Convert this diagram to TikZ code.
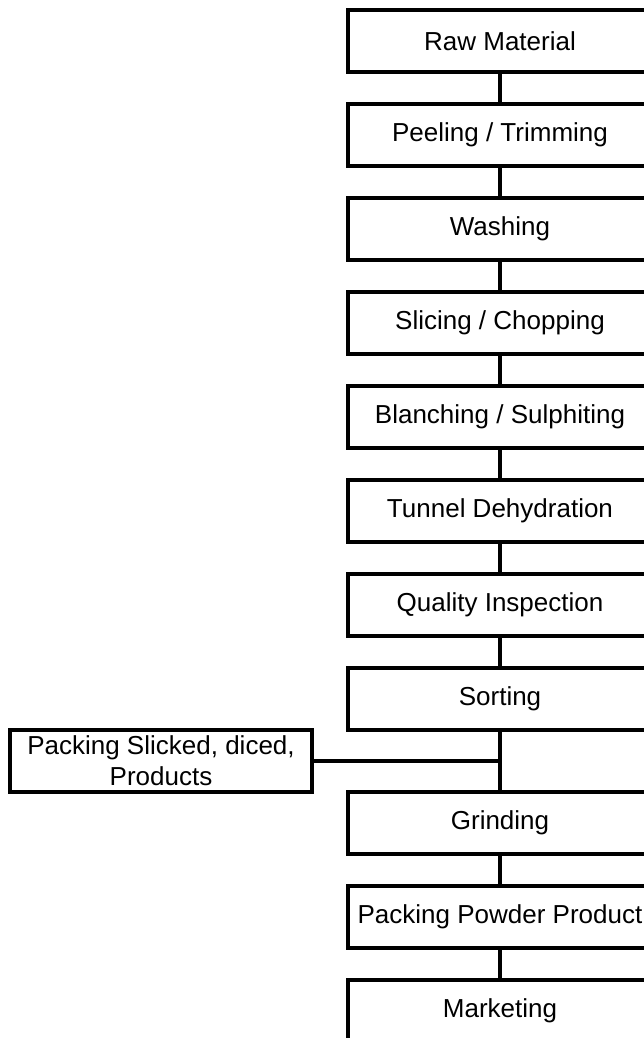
\documentclass[tikz,border=0pt]{standalone}
\usepackage{fontspec}
\setmainfont{Liberation Sans}
\begin{document}
\begin{tikzpicture}[node distance=1.88cm, auto,
  stage/.style={draw, line width=2.2pt, minimum width=6.08cm, minimum height=1.24cm,
    inner sep=0pt, align=center, font=\fontsize{14.8}{17.6}\selectfont},
  link/.style={line width=2.2pt}]
\useasboundingbox (0,0) rectangle (12.88,-20.76);
\clip (0,0) rectangle (12.88,-20.76);
\node[stage] (Raw) at (10,-0.82) {Raw Material};
\node[stage] (Peel) [below of=Raw] {Peeling / Trimming};
\node[stage] (Wash) [below of=Peel] {Washing};
\node[stage] (Slice) [below of=Wash] {Slicing / Chopping};
\node[stage] (Blanch) [below of=Slice] {Blanching / Sulphiting};
\node[stage] (Tunnel) [below of=Blanch] {Tunnel Dehydration};
\node[stage] (Quality) [below of=Tunnel] {Quality Inspection};
\node[stage] (Sort) [below of=Quality] {Sorting};
\node[stage] (Grind) [below of=Sort,yshift=-0.6cm] {Grinding};
\node[stage] (Powder) [below of=Grind] {Packing Powder Product};
\node[stage] (Market) [below of=Powder] {Marketing};
\node[stage,minimum width=6.04cm] (Pack) at (3.22,-15.22) {Packing Slicked, diced,\\Products};

\draw[link] (Raw) -- (Peel);
\draw[link] (Peel) -- (Wash);
\draw[link] (Wash) -- (Slice);
\draw[link] (Slice) -- (Blanch);
\draw[link] (Blanch) -- (Tunnel);
\draw[link] (Tunnel) -- (Quality);
\draw[link] (Quality) -- (Sort);
\draw[link] (Sort) -- (Grind);
\draw[link] (Pack.east) -- (Pack.east -| Sort.south);
\draw[link] (Grind) -- (Powder);
\draw[link] (Powder) -- (Market);
\end{tikzpicture}
\end{document}
